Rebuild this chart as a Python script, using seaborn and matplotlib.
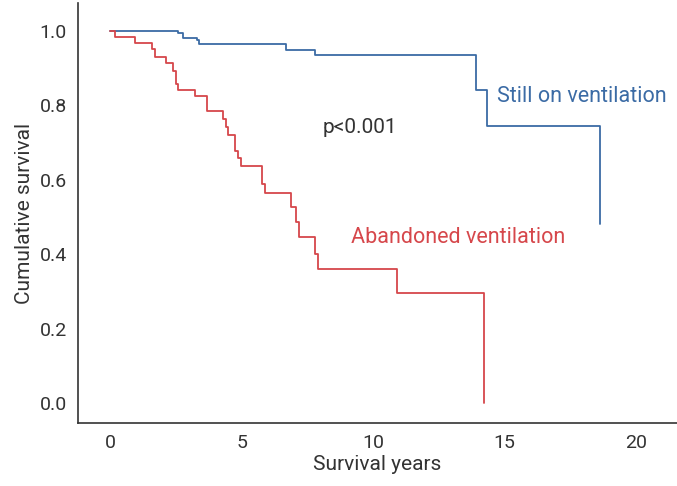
import matplotlib
matplotlib.use("Agg")
import matplotlib.pyplot as plt
import pandas as pd
import seaborn as sns

# Kaplan-Meier steps (time in years, survival after the drop)
still_t = [0.0, 2.57, 2.76, 3.30, 3.40, 6.68, 7.80, 13.92, 14.33, 18.62]
still_s = [1.0, 0.994, 0.982, 0.976, 0.964, 0.949, 0.934, 0.841, 0.745, 0.481]

aband_t = [0.0, 0.20, 0.95, 1.61, 1.72, 2.12, 2.38, 2.49, 2.57, 3.22, 3.70,
           4.28, 4.40, 4.49, 4.74, 4.85, 4.99, 5.77, 5.88, 6.88, 7.07, 7.17,
           7.78, 7.89, 10.90, 14.22]
aband_s = [1.0, 0.983, 0.967, 0.952, 0.931, 0.915, 0.893, 0.857, 0.841, 0.826, 0.786,
           0.764, 0.743, 0.721, 0.678, 0.659, 0.637, 0.588, 0.564, 0.526, 0.487, 0.447,
           0.400, 0.359, 0.295, 0.0]

groups = ["Still on ventilation", "Abandoned ventilation"]
colors = {"Still on ventilation": "#3b6ba5", "Abandoned ventilation": "#d6474b"}
x_ticks = [0, 5, 10, 15, 20]
y_ticks = [0.0, 0.2, 0.4, 0.6, 0.8, 1.0]

df = pd.concat([
    pd.DataFrame({"years": still_t, "survival": still_s, "group": groups[0]}),
    pd.DataFrame({"years": aband_t, "survival": aband_s, "group": groups[1]}),
], ignore_index=True)

sns.set_theme(style="white")
plt.rcParams["font.family"] = ["Roboto", "DejaVu Sans"]
text_col = "#333333"

fig = plt.figure(figsize=(6.77, 4.86), dpi=100)
ax = fig.add_axes([0.1152, 0.1296, 0.8848, 0.8642])

sns.lineplot(data=df, x="years", y="survival", hue="group", palette=colors,
             drawstyle="steps-post", estimator=None, legend=False, lw=1.3, ax=ax)

ax.set_xlim(-1.22, 21.56)
ax.set_ylim(-0.054, 1.075)
ax.set_xticks(x_ticks)
ax.set_yticks(y_ticks)
ax.set_yticklabels([f"{v:.1f}" for v in y_ticks])
ax.tick_params(axis="both", direction="out", length=5, width=1.2, color="#555555",
               labelsize=14, labelcolor=text_col, pad=3)
ax.set_xlabel("Survival years", fontsize=15, color=text_col, labelpad=2)
ax.set_ylabel("Cumulative survival", fontsize=15, color=text_col, labelpad=4)

for side in ["top", "right"]:
    ax.spines[side].set_visible(False)
for side in ["left", "bottom"]:
    ax.spines[side].set_color("#333333")
    ax.spines[side].set_linewidth(1.2)

ax.text(14.7, 0.824, "Still on ventilation", color=colors[groups[0]], fontsize=15.5, va="center")
ax.text(9.18, 0.445, "Abandoned ventilation", color=colors[groups[1]], fontsize=15.5, va="center")
ax.text(8.1, 0.74, "p<0.001", color=text_col, fontsize=15, va="center")

fig.savefig("out.png", dpi=100)
